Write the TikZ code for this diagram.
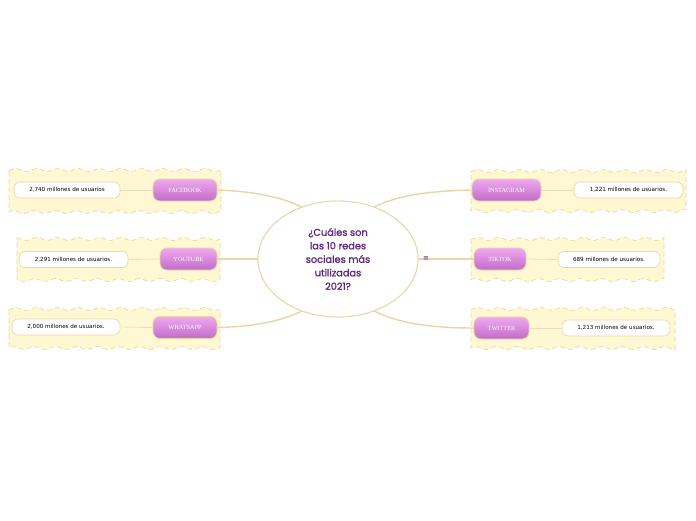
\documentclass[tikz,border=0pt]{standalone}
\usepackage{fontspec}
\setmainfont{DejaVu Sans}
\newfontfamily\titlefont[FakeBold=1.2]{Poppins}
\newfontfamily\pillfont{Liberation Serif}
\newfontfamily\symfont{DejaVu Sans}
\usetikzlibrary{shapes.geometric}
\definecolor{tan}{HTML}{E9D5A6}
\definecolor{bgyellow}{HTML}{FFF8D2}
\definecolor{bgedge}{HTML}{EDD69C}
\definecolor{purp}{HTML}{5E2683}
\definecolor{pilltop}{HTML}{F0A8F0}
\definecolor{pillbot}{HTML}{C06CC8}
\tikzset{
  bgarea/.style={fill=bgyellow, draw=bgedge, line width=0.7pt, dash pattern=on 5pt off 3pt, line join=round},
  pill/.style={rounded corners=7pt, draw=tan, line width=0.8pt, top color=pilltop, bottom color=pillbot,
    minimum height=22pt, inner sep=0pt, text=white, font=\pillfont\fontsize{6.3}{7}\selectfont},
  lab/.style={rounded corners=6pt, draw=tan, line width=0.6pt, fill=white, minimum height=16pt,
    inner sep=0pt, text=black, font=\fontsize{5.6}{7}\selectfont},
  conn/.style={draw=tan, line width=1.4pt},
  thin/.style={draw=tan!80, line width=0.8pt},
}
% wavy area: #1 x-left, #2 x-right, #3 y-top, #4 y-bottom
\newcommand{\wavyarea}[4]{%
  \path[bgarea] plot[domain=#1:#2, samples=70, smooth] (\x,{#3+1.5*sin(mod(\x,21)*17.142857)})
     -- plot[domain=#2:#1, samples=70, smooth] (\x,{#4+1.5*sin(mod(\x,21)*17.142857+40)}) -- cycle;}
\begin{document}
\begin{tikzpicture}[x=1pt,y=-1pt]
\useasboundingbox (0,0) rectangle (696,520);
% backgrounds
\wavyarea{9}{221}{170}{212}
\wavyarea{17}{220}{239}{280}
\wavyarea{9}{220}{309}{348}
\wavyarea{471}{686}{171}{211}
\wavyarea{471}{664}{239}{280}
\wavyarea{471}{675}{309}{348}

% central
\node[ellipse, draw=tan, line width=0.9pt, fill=white, minimum width=160pt, minimum height=116pt] (c) at (338,259) {};

% pills
\node[pill, minimum width=64pt] (fb) at (185,190) {FACEBOOK};
\node[pill, minimum width=57pt] (yt) at (188.5,259) {YOUTUBE};
\node[pill, minimum width=64pt] (wa) at (185,327.5) {WHATSAPP};
\node[pill, minimum width=69pt] (ig) at (506.5,190) {INSTAGRAM};
\node[pill, minimum width=52pt] (tt) at (500,259) {TIKTOK};
\node[pill, minimum width=55pt] (tw) at (501.5,328) {TWITTER};

% labels
\node[lab, minimum width=106pt] (fbl) at (67,190) {2,740 millones de usuarios};
\node[lab, minimum width=109pt] (ytl) at (73.5,259.5) {2,291 millones de usuarios.};
\node[lab, minimum width=108pt] (wal) at (66,327) {2,000 millones de usuarios.};
\node[lab, minimum width=109pt] (igl) at (628.5,190) {1,221 millones de usuarios.};
\node[lab, minimum width=102pt] (ttl) at (609,259.5) {689 millones de usuarios.};
\node[lab, minimum width=108pt] (twl) at (616,328) {1,213 millones de usuarios.};

% pill to label
\draw[thin] (fb.west) -- (fbl.east);
\draw[thin] (yt.west) -- (ytl.east);
\draw[thin] (wa.west) -- (wal.east);
\draw[thin] (ig.east) -- (igl.west);
\draw[thin] (tt.east) -- (ttl.west);
\draw[thin] (tw.east) -- (twl.west);

% main connectors
\draw[conn] (c.125) .. controls (278,195) and (245,191) .. (fb.east);
\draw[conn] (c.west) -- (yt.east);
\draw[conn] (c.235) .. controls (278,323) and (245,327) .. (wa.east);
\draw[conn] (c.55) .. controls (398,195) and (430,191) .. (ig.west);
\draw[conn] (c.east) -- (tt.west);
\draw[conn] (c.305) .. controls (398,323) and (430,328) .. (tw.west);

% redraw ellipse on top
\node[ellipse, draw=tan, line width=0.9pt, fill=white, minimum width=160pt, minimum height=116pt] at (338,259) {};
\node[text=purp, align=center, font=\titlefont\fontsize{9.8}{13.5}\selectfont] (ct) at (338,259)
  {¿Cuáles son\\las 10 redes\\sociales más\\utilizadas\\2021?};
\node[text=purp, font=\symfont\fontsize{7}{7}\selectfont, inner sep=0pt] (ic) at (426,259) {≡};
\end{tikzpicture}
\end{document}
